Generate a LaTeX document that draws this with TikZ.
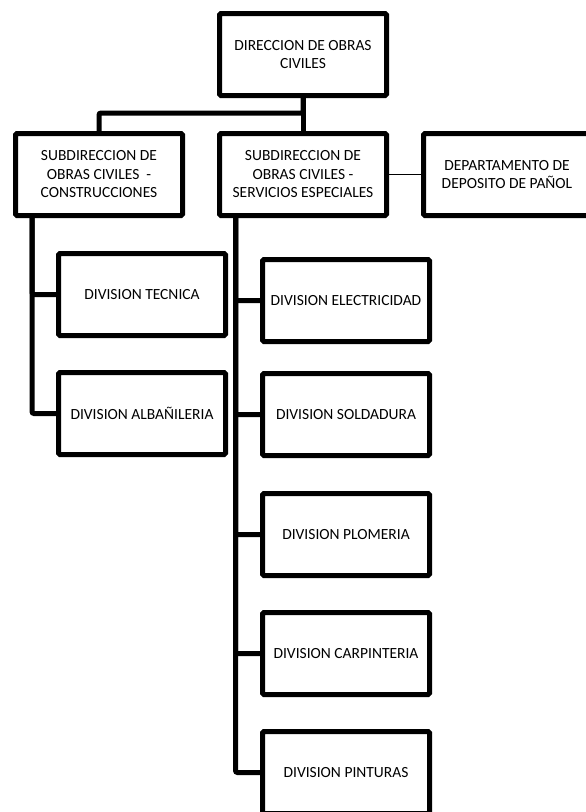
\documentclass[tikz,border=0pt]{standalone}
\usepackage{fontspec}
\setmainfont{Carlito}
\usetikzlibrary{positioning}

\begin{document}
\begin{tikzpicture}[
    x=1pt, y=-1pt,
    node distance=32pt and 32pt,
    org_block/.style={rectangle, draw, line width=5pt, rounded corners=1.5pt, fill=white, minimum width=167pt, minimum height=82pt, align=center, inner sep=2pt, font=\fontsize{15.5}{18.5}\selectfont},
    org_flow/.style={line width=5pt, rounded corners=2pt},
    side_flow/.style={line width=1.6pt}
]
    \useasboundingbox (0,0) rectangle (586,812);

    % Direccion y subdirecciones
    \node[org_block] (dir) at (303,54.5) {DIRECCION DE OBRAS\\CIVILES};
    \node[org_block, below=33pt of dir] (sub2) {SUBDIRECCION DE\\OBRAS CIVILES -\\SERVICIOS ESPECIALES};
    \node[org_block, left=of sub2] (sub1) {SUBDIRECCION DE\\OBRAS CIVILES\ \ -\\CONSTRUCCIONES};
    \node[org_block, right=of sub2] (dept) {DEPARTAMENTO DE\\DEPOSITO DE PAÑOL};

    \draw[org_flow] (dir.south) -- (sub2.north);
    \draw[org_flow] (dir.south) -- ++(0,15) -| (sub1.north);
    \draw[side_flow] (sub2) -- (dept);

    % Divisiones de construcciones
    \node[org_block, below=33pt of sub1, xshift=43pt] (tec) {DIVISION TECNICA};
    \node[org_block, below=of tec] (alb) {DIVISION ALBAÑILERIA};

    \coordinate (s1) at ([xshift=19pt]sub1.south west);
    \draw[org_flow] (s1) |- (tec.west);
    \draw[org_flow] (s1) |- (alb.west);

    % Divisiones de servicios especiales
    \node[org_block, below=39pt of sub2, xshift=43pt] (ele) {DIVISION ELECTRICIDAD};
    \node[org_block, below=27pt of ele] (sol) {DIVISION SOLDADURA};
    \node[org_block, below=33pt of sol] (plo) {DIVISION PLOMERIA};
    \node[org_block, below=of plo] (car) {DIVISION CARPINTERIA};
    \node[org_block, below=of car] (pin) {DIVISION PINTURAS};

    \coordinate (s2) at ([xshift=18.5pt]sub2.south west);
    \foreach \n in {ele, sol, plo, car, pin}
        \draw[org_flow] (s2) |- (\n.west);

\end{tikzpicture}
\end{document}
